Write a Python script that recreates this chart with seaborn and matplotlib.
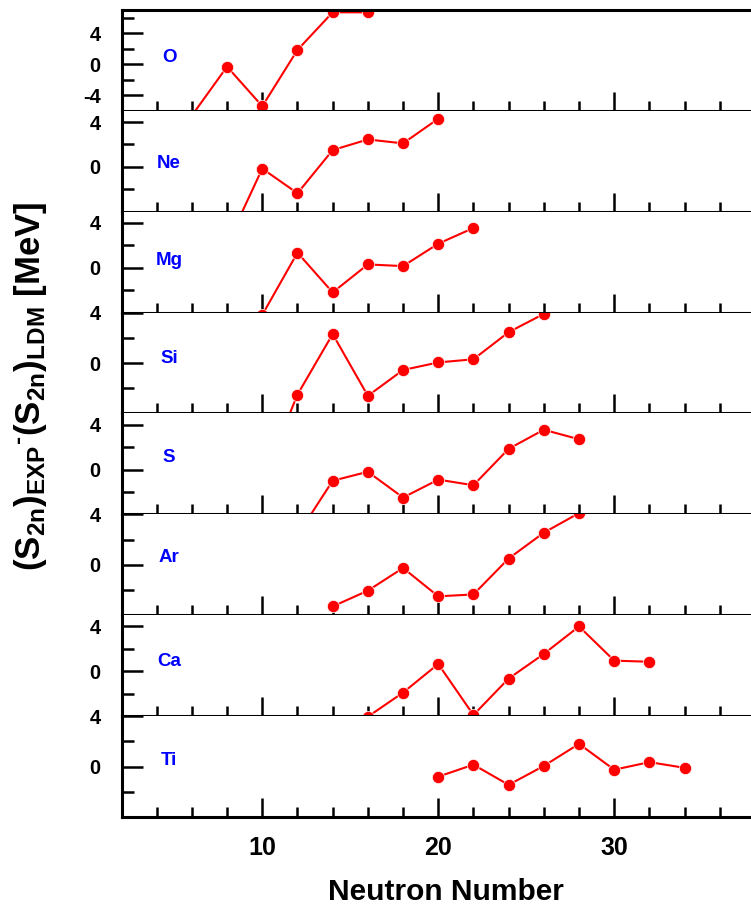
import pandas as pd
import matplotlib
matplotlib.use('Agg')
import matplotlib.pyplot as plt
import matplotlib.transforms as mtransforms
from matplotlib.ticker import FixedLocator, MultipleLocator
import seaborn as sns

# (S2n)EXP - (S2n)LDM per isotope chain
elements = ['O', 'Ne', 'Mg', 'Si', 'S', 'Ar', 'Ca', 'Ti']

n_O = [6, 8, 10, 12, 14, 16]
d_O = [-6.6, -0.3, -5.4, 1.85, 6.7, 6.7]

n_Ne = [8, 10, 12, 14, 16, 18, 20]
d_Ne = [-6.9, -0.15, -2.35, 1.5, 2.45, 2.1, 4.3]

n_Mg = [10, 12, 14, 16, 18, 20, 22]
d_Mg = [-4.2, 1.35, -2.2, 0.3, 0.15, 2.15, 3.55]

n_Si = [10, 12, 14, 16, 18, 20, 22, 24, 26]
d_Si = [-9.4, -2.5, 2.3, -2.6, -0.55, 0.05, 0.3, 2.45, 3.9]

n_S = [12, 14, 16, 18, 20, 22, 24, 26, 28]
d_S = [-5.85, -1.0, -0.2, -2.5, -0.9, -1.4, 1.85, 3.55, 2.7]

n_Ar = [14, 16, 18, 20, 22, 24, 26, 28]
d_Ar = [-3.3, -2.05, -0.25, -2.5, -2.35, 0.5, 2.55, 4.1]

n_Ca = [16, 18, 20, 22, 24, 26, 28, 30, 32]
d_Ca = [-4.05, -1.9, 0.65, -3.9, -0.65, 1.55, 4.0, 0.95, 0.85]

n_Ti = [20, 22, 24, 26, 28, 30, 32, 34]
d_Ti = [-0.8, 0.15, -1.45, 0.05, 1.8, -0.25, 0.35, -0.1]

neutrons = [n_O, n_Ne, n_Mg, n_Si, n_S, n_Ar, n_Ca, n_Ti]
diffs = [d_O, d_Ne, d_Mg, d_Si, d_S, d_Ar, d_Ca, d_Ti]

# bang dai
rows = []
for el, ns, ds in zip(elements, neutrons, diffs):
    for n, d in zip(ns, ds):
        rows.append((el, n, d))
df = pd.DataFrame(rows, columns=['element', 'N', 'diff'])

# truc y tung panel
ylims = [(-6, 7), (-4, 5), (-4, 5), (-4, 4), (-4, 5), (-4, 4), (-4, 5), (-4, 4)]
label_y = [0.53, 0.475, 0.515, 0.55, 0.56, 0.57, 0.54, 0.56]

sns.set_style('ticks')
plt.rcParams['font.family'] = ['Liberation Sans', 'DejaVu Sans']
plt.rcParams['font.weight'] = 'bold'
plt.rcParams['text.color'] = 'black'
plt.rcParams['axes.edgecolor'] = 'black'
plt.rcParams['xtick.color'] = 'black'
plt.rcParams['ytick.color'] = 'black'
plt.rcParams['axes.unicode_minus'] = False
plt.rcParams['mathtext.fontset'] = 'custom'
plt.rcParams['mathtext.bf'] = 'Liberation Sans:bold'
plt.rcParams['mathtext.rm'] = 'Liberation Sans:bold'
plt.rcParams['mathtext.default'] = 'bf'

fig = plt.figure(figsize=(7.51, 9.05), dpi=100)
gs = fig.add_gridspec(8, 1, left=121.5 / 751, right=755 / 751,
                      top=1 - 10 / 905, bottom=1 - 817 / 905, hspace=0)

for i, el in enumerate(elements):
    ax = fig.add_subplot(gs[i])
    sub = df[df['element'] == el]
    sns.lineplot(data=sub, x='N', y='diff', ax=ax, color='red', marker='o',
                 markersize=8.8, markeredgecolor='white', markeredgewidth=0.5,
                 linewidth=1.5, sort=False, estimator=None)
    ax.set_xlim(2, 38)
    ax.set_ylim(*ylims[i])
    ax.set_xlabel('')
    ax.set_ylabel('')

    ax.xaxis.set_major_locator(FixedLocator([10, 20, 30]))
    ax.xaxis.set_minor_locator(MultipleLocator(2))
    if el == 'O':
        ax.yaxis.set_major_locator(FixedLocator([-4, 0, 4]))
        ax.yaxis.set_minor_locator(FixedLocator([-2, 2, 6]))
    else:
        ax.yaxis.set_major_locator(FixedLocator([0, 4]))
        ax.yaxis.set_minor_locator(FixedLocator([-2, 2]))

    ax.tick_params(axis='x', which='major', direction='in', length=13.5, width=1.8,
                   top=False, bottom=True, labelbottom=(i == 7), labelsize=18, pad=14,
                   colors='black')
    ax.tick_params(axis='x', which='minor', direction='in', length=7, width=1.8,
                   top=False, bottom=True, colors='black')
    ax.tick_params(axis='y', which='major', direction='in', length=15, width=1.8,
                   labelsize=14.5, pad=15, right=False, colors='black')
    ax.tick_params(axis='y', which='minor', direction='in', length=8.5, width=1.8,
                   right=False, colors='black')

    ax.spines['right'].set_visible(False)
    ax.spines['top'].set_visible(i == 0)
    for s in ['left', 'bottom', 'top']:
        ax.spines[s].set_linewidth(2.2)
        ax.spines[s].set_color('black')

    trans = mtransforms.blended_transform_factory(ax.transData, ax.transAxes)
    ax.text(4.7, label_y[i], el, transform=trans, color='#0000ff', fontsize=13.5,
            fontweight='bold', ha='center', va='center')

fig.text(446 / 751, 1 - 900 / 905, 'Neutron Number', ha='center', va='baseline',
         fontsize=21.5, fontweight='bold', color='black')
fig.text(31 / 751, 1 - 386 / 905, r'$(S_{2n})_{EXP}{}^{\text{-}}(S_{2n})_{LDM}$ [MeV]',
         rotation=90, ha='center', va='center', fontsize=25, fontweight='bold',
         color='black')

fig.savefig('out.png', dpi=100)
plt.close()
